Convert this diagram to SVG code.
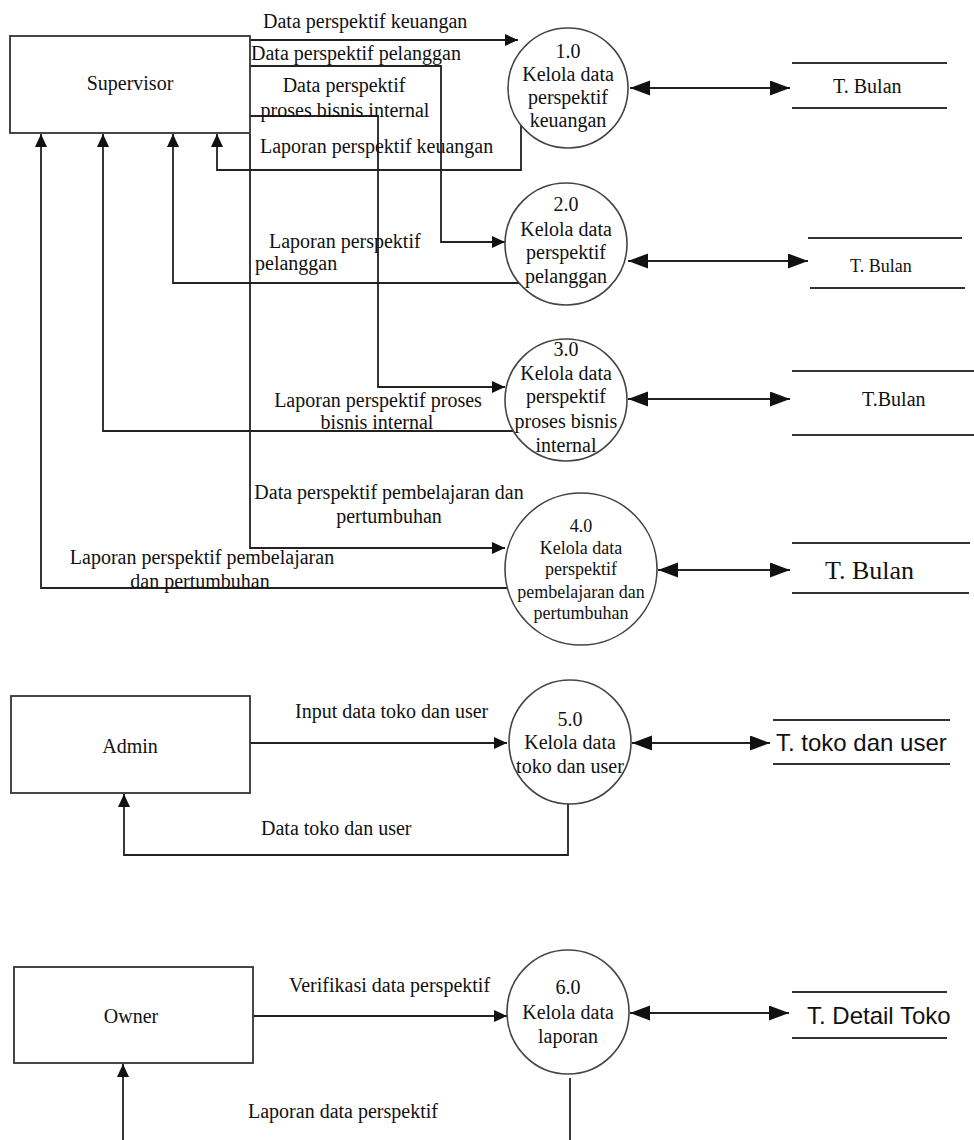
<svg xmlns="http://www.w3.org/2000/svg" width="974" height="1140" viewBox="0 0 974 1140">
<style>
.bg{fill:#fff}
.box{fill:#fff;stroke:#333;stroke-width:1.8}
.proc{fill:#fff;stroke:#444;stroke-width:1.6}
.st{stroke:#333;stroke-width:1.8;fill:none}
.fl{stroke:#222;stroke-width:1.8;fill:none}
.t{font-family:"Liberation Serif","Times New Roman",serif;font-size:20px;fill:#111}
.c{text-anchor:middle}
.sm{font-size:18px}
.s{font-family:"Liberation Sans",Arial,sans-serif;font-size:24px;fill:#111}
</style>
<defs>
<marker id="a" markerUnits="userSpaceOnUse" markerWidth="14" markerHeight="12" refX="13" refY="6" orient="auto"><path d="M0,0 L13,6 L0,12 z" fill="#111"/></marker>
<marker id="b" markerUnits="userSpaceOnUse" markerWidth="21" markerHeight="16" refX="20" refY="7.5" orient="auto-start-reverse"><path d="M0,0 L20,7.5 L0,15 z" fill="#111"/></marker>
</defs>
<rect class="bg" x="0" y="0" width="974" height="1140"/>

<g id="connectors">
<path class="fl" d="M250,40 H518" marker-end="url(#a)"/>
<path class="fl" d="M250,66 H441 V242 H505" marker-end="url(#a)"/>
<path class="fl" d="M250,116 H378 V387 H505" marker-end="url(#a)"/>
<path class="fl" d="M250,134 V548 H505" marker-end="url(#a)"/>
<path class="fl" d="M521,125 V170 H217 V134" marker-end="url(#a)"/>
<path class="fl" d="M519,283 H173 V134" marker-end="url(#a)"/>
<path class="fl" d="M515,431 H103 V134" marker-end="url(#a)"/>
<path class="fl" d="M512,588 H41 V134" marker-end="url(#a)"/>
<path class="fl" d="M630,88 H790" marker-start="url(#b)" marker-end="url(#b)"/>
<path class="fl" d="M628,261 H808" marker-start="url(#b)" marker-end="url(#b)"/>
<path class="fl" d="M628,399 H790" marker-start="url(#b)" marker-end="url(#b)"/>
<path class="fl" d="M658,570 H790" marker-start="url(#b)" marker-end="url(#b)"/>
<path class="fl" d="M632,743 H770" marker-start="url(#b)" marker-end="url(#b)"/>
<path class="fl" d="M630,1013 H789" marker-start="url(#b)" marker-end="url(#b)"/>
<path class="fl" d="M250,743 H507" marker-end="url(#a)"/>
<path class="fl" d="M568,803 V855 H124 V794" marker-end="url(#a)"/>
<path class="fl" d="M253,1016 H507" marker-end="url(#a)"/>
<path class="fl" d="M123,1140 V1064" marker-end="url(#a)"/>
<path class="fl" d="M570,1078 V1140"/>
<text class="t" x="263" y="28">Data perspektif keuangan</text>
<text class="t" x="251" y="60">Data perspektif pelanggan</text>
<text class="t c" x="344" y="92">Data perspektif</text>
<text class="t c" x="345" y="117">proses bisnis internal</text>
<text class="t" x="260" y="153">Laporan perspektif keuangan</text>
<text class="t" x="269" y="248">Laporan perspektif</text>
<text class="t" x="255" y="270">pelanggan</text>
<text class="t c" x="378" y="407">Laporan perspektif proses</text>
<text class="t c" x="377" y="429">bisnis internal</text>
<text class="t c" x="389" y="499">Data perspektif pembelajaran dan</text>
<text class="t c" x="389" y="523">pertumbuhan</text>
<text class="t c" x="202" y="564">Laporan perspektif pembelajaran</text>
<text class="t c" x="200" y="588">dan pertumbuhan</text>
<text class="t" x="295" y="718">Input data toko dan user</text>
<text class="t" x="261" y="835">Data toko dan user</text>
<text class="t" x="289" y="992">Verifikasi data perspektif</text>
<text class="t" x="248" y="1118">Laporan data perspektif</text>
</g>

<g id="supervisor">
<rect class="box" x="10" y="36" width="240" height="97"/>
<text class="t c" x="130" y="90">Supervisor</text>
</g>
<g id="admin">
<rect class="box" x="11" y="696" width="239" height="97"/>
<text class="t c" x="130" y="753">Admin</text>
</g>
<g id="owner">
<rect class="box" x="14" y="967" width="239" height="96"/>
<text class="t c" x="131" y="1023">Owner</text>
</g>

<g id="p1">
<circle class="proc" cx="568" cy="88" r="60"/>
<text class="t c" x="568" y="58">1.0</text>
<text class="t c" x="568" y="81">Kelola data</text>
<text class="t c" x="568" y="104">perspektif</text>
<text class="t c" x="568" y="127">keuangan</text>
</g>
<g id="p2">
<circle class="proc" cx="566" cy="244" r="61"/>
<text class="t c" x="566" y="211">2.0</text>
<text class="t c" x="566" y="236">Kelola data</text>
<text class="t c" x="566" y="259">perspektif</text>
<text class="t c" x="566" y="283">pelanggan</text>
</g>
<g id="p3">
<circle class="proc" cx="566" cy="400" r="61"/>
<text class="t c" x="566" y="356">3.0</text>
<text class="t c" x="566" y="380">Kelola data</text>
<text class="t c" x="566" y="403">perspektif</text>
<text class="t c" x="566" y="428">proses bisnis</text>
<text class="t c" x="566" y="452">internal</text>
</g>
<g id="p4">
<circle class="proc" cx="581" cy="569" r="76"/>
<text class="t c sm" x="581" y="532">4.0</text>
<text class="t c sm" x="581" y="554">Kelola data</text>
<text class="t c sm" x="581" y="575">perspektif</text>
<text class="t c sm" x="581" y="598">pembelajaran dan</text>
<text class="t c sm" x="581" y="619">pertumbuhan</text>
</g>
<g id="p5">
<ellipse class="proc" cx="570" cy="742" rx="61" ry="62"/>
<text class="t c" x="570" y="726">5.0</text>
<text class="t c" x="570" y="749">Kelola data</text>
<text class="t c" x="570" y="773">toko dan user</text>
</g>
<g id="p6">
<ellipse class="proc" cx="568" cy="1012" rx="61" ry="62"/>
<text class="t c" x="568" y="994">6.0</text>
<text class="t c" x="568" y="1019">Kelola data</text>
<text class="t c" x="568" y="1043">laporan</text>
</g>

<g id="store1">
<path class="st" d="M792,63 H947 M792,108 H947"/>
<text class="t" x="833" y="93">T. Bulan</text>
</g>
<g id="store2">
<path class="st" d="M808,238 H962 M810,288 H965"/>
<text class="t" x="850" y="272" style="font-size:18px">T. Bulan</text>
</g>
<g id="store3">
<path class="st" d="M792,371 H974 M792,435 H974"/>
<text class="t" x="862" y="406">T.Bulan</text>
</g>
<g id="store4">
<path class="st" d="M792,543 H970 M792,593 H969"/>
<text class="t" x="825" y="579" style="font-size:26px">T. Bulan</text>
</g>
<g id="store5">
<path class="st" d="M773,720 H950 M773,764 H950"/>
<text class="s" x="776" y="751">T. toko dan user</text>
</g>
<g id="store6">
<path class="st" d="M792,992 H947 M792,1038 H947"/>
<text class="s" x="807" y="1024">T. Detail Toko</text>
</g>
</svg>
